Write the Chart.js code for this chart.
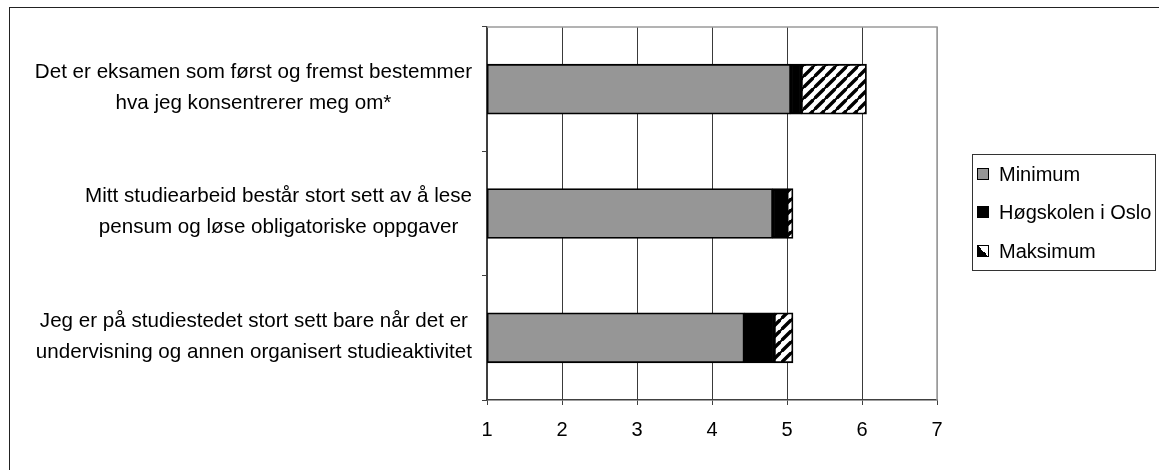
<!DOCTYPE html>
<html>
<head>
<meta charset="utf-8">
<script src="https://cdn.jsdelivr.net/npm/chart.js@4"></script>
<style>
  body { margin: 0; background: #fff; }
  #wrap { position: relative; width: 1159px; height: 470px; overflow: hidden; font-family: "Liberation Sans", Arial, sans-serif; }
  #frame { position: absolute; left: 9px; top: 7px; width: 1200px; height: 500px; border-left: 1px solid #222; border-top: 1px solid #222; }
  #legend { position: absolute; left: 972px; top: 154px; width: 184px; height: 117px; border: 1px solid #333; box-sizing: border-box; }
  .item { position: absolute; left: 4px; height: 24px; line-height: 24px; font-size: 20px; color: #000; white-space: nowrap; }
  .sw { display: inline-block; width: 10px; height: 10px; border: 1px solid #000; margin-right: 10px; vertical-align: 1px; }
</style>
</head>
<body>
<div id="wrap">
  <div id="frame"></div>
  <canvas id="chart" width="1159" height="470"></canvas>
  <div id="legend"></div>
</div>
<script>
// statements, each split in two lines
const categories = [
  ["Det er eksamen som først og fremst bestemmer", "hva jeg konsentrerer meg om*"],
  ["Mitt studiearbeid består stort sett av å lese", "pensum og løse obligatoriske oppgaver"],
  ["Jeg er på studiestedet stort sett bare når det er", "undervisning og annen organisert studieaktivitet"]
];
const seriesNames = ["Minimum", "Høgskolen i Oslo", "Maksimum"];
const minimum = [5.05, 4.81, 4.43];
const hio = [5.19, 5.00, 4.83];
const maksimum = [6.06, 5.08, 5.08];
const axisStart = 1;
const xTicks = [1, 2, 3, 4, 5, 6, 7];

const FONT = '"Liberation Sans", Arial, sans-serif';

function hatch() {
  const c = document.createElement('canvas');
  c.width = 11; c.height = 11;
  const g = c.getContext('2d');
  g.fillStyle = '#fff';
  g.fillRect(0, 0, 11, 11);
  g.strokeStyle = '#000';
  g.lineWidth = 3.4;
  g.beginPath();
  g.moveTo(-2, 13); g.lineTo(13, -2);
  g.moveTo(-8, 7); g.lineTo(7, -8);
  g.moveTo(4, 19); g.lineTo(19, 4);
  g.stroke();
  return g.createPattern(c, 'repeat');
}

const fills = ['#969696', '#000000', hatch()];

const lowData = minimum.map(v => [axisStart, v]);
const midData = minimum.map((v, i) => [v, hio[i]]);
const highData = hio.map((v, i) => [v, maksimum[i]]);

const blockLabels = {
  id: 'blockLabels',
  afterDraw(chart) {
    const ctx = chart.ctx;
    const y = chart.scales.y;
    ctx.save();
    ctx.font = '20.6px ' + FONT;
    ctx.fillStyle = '#000';
    ctx.textAlign = 'center';
    ctx.textBaseline = 'middle';
    categories.forEach((lines, i) => {
      const w = Math.max(...lines.map(l => ctx.measureText(l).width));
      const cx = 472 - w / 2;
      const cy = y.getPixelForValue(i) - 1.5;
      lines.forEach((l, j) => {
        ctx.fillText(l, cx, cy + (j - (lines.length - 1) / 2) * 31);
      });
    });
    ctx.restore();
  }
};

const plotFrame = {
  id: 'plotFrame',
  beforeDatasetsDraw(chart) {
    const a = chart.chartArea;
    const ctx = chart.ctx;
    ctx.save();
    ctx.strokeStyle = '#9a9a9a';
    ctx.lineWidth = 1.5;
    ctx.beginPath();
    ctx.moveTo(a.left, a.top);
    ctx.lineTo(a.right, a.top);
    ctx.lineTo(a.right, a.bottom);
    ctx.stroke();
    ctx.restore();
  }
};

new Chart(document.getElementById('chart'), {
  type: 'bar',
  data: {
    labels: categories,
    datasets: [
      { label: seriesNames[0], data: lowData, backgroundColor: fills[0] },
      { label: seriesNames[1], data: midData, backgroundColor: fills[1] },
      { label: seriesNames[2], data: highData, backgroundColor: fills[2] }
    ]
  },
  options: {
    indexAxis: 'y',
    responsive: false,
    animation: false,
    devicePixelRatio: 1,
    layout: { padding: { left: 0, right: 222, top: 27, bottom: 0 } },
    datasets: {
      bar: {
        grouped: false,
        barThickness: 50,
        borderColor: '#000',
        borderWidth: 1.8,
        borderSkipped: false
      }
    },
    scales: {
      x: {
        type: 'linear',
        min: 1,
        max: 7,
        afterBuildTicks: s => { s.ticks = xTicks.map(v => ({ value: v })); },
        afterFit: s => { s.height = 70; },
        ticks: { color: '#000', font: { family: FONT, size: 20 }, padding: 13 },
        grid: {
          color: c => (c.tick && c.tick.value === 7 ? '#9a9a9a' : '#3a3a3a'),
          tickColor: '#404040',
          lineWidth: 1,
          tickLength: 5
        },
        border: { display: true, color: '#404040', width: 1.5 }
      },
      y: {
        type: 'category',
        offset: true,
        afterFit: s => { s.width = 487; },
        ticks: { display: false },
        grid: { offset: true, drawOnChartArea: false, tickLength: 5, color: '#404040' },
        border: { display: true, color: '#404040', width: 1.5 }
      }
    },
    plugins: {
      legend: { display: false },
      tooltip: { enabled: false }
    }
  },
  plugins: [plotFrame, blockLabels]
});

// legend
const legend = document.getElementById('legend');
const swatchBg = ['#969696', '#000', 'linear-gradient(to top right, #000 50%, #fff 50%)'];
const itemTops = [7, 45, 84];
seriesNames.forEach((name, i) => {
  const d = document.createElement('div');
  d.className = 'item';
  d.style.top = itemTops[i] + 'px';
  const s = document.createElement('span');
  s.className = 'sw';
  s.style.background = swatchBg[i];
  d.appendChild(s);
  d.appendChild(document.createTextNode(name));
  legend.appendChild(d);
});
</script>
</body>
</html>
